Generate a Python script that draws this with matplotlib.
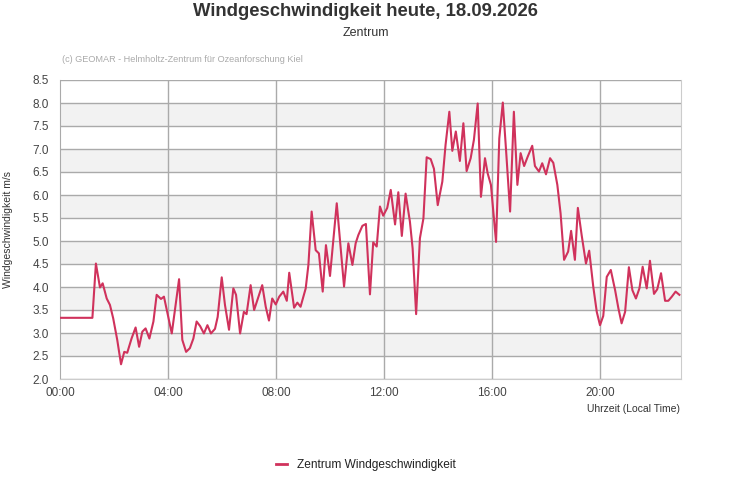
import matplotlib
matplotlib.use("Agg")
import matplotlib.pyplot as plt

plt.rcParams['font.family'] = ['Liberation Sans', 'DejaVu Sans']

title = "Windgeschwindigkeit heute, 18.09.2026"
subtitle = "Zentrum"
credit = "(c) GEOMAR - Helmholtz-Zentrum für Ozeanforschung Kiel"
series_name = "Zentrum Windgeschwindigkeit"
y_label = "Windgeschwindigkeit m/s"
x_label = "Uhrzeit (Local Time)"

# time in hours since 00:00
hours = [0.0, 1.2, 1.33, 1.48, 1.58, 1.73, 1.85, 1.97, 2.12, 2.26, 2.38, 2.49, 2.65, 2.80,
         2.93, 3.05, 3.17, 3.31, 3.46, 3.58, 3.74, 3.85, 4.14, 4.41, 4.53, 4.67, 4.81,
         4.94, 5.06, 5.19, 5.33, 5.46, 5.59, 5.74, 5.84, 5.99, 6.11, 6.26, 6.42, 6.52,
         6.67, 6.81, 6.91, 7.06, 7.19, 7.49, 7.62, 7.74, 7.86, 7.99, 8.12, 8.27, 8.40,
         8.49, 8.67, 8.79, 8.91, 9.10, 9.20, 9.32, 9.47, 9.59, 9.73, 9.85, 10.0, 10.25,
         10.52, 10.68, 10.83, 10.95, 11.05, 11.2, 11.33, 11.48, 11.60, 11.73, 11.85,
         11.97, 12.12, 12.25, 12.41, 12.53, 12.66, 12.80, 12.96, 13.06, 13.19, 13.33,
         13.46, 13.58, 13.73, 13.85, 13.99, 14.16, 14.28, 14.42, 14.53, 14.66, 14.81,
         14.94, 15.06, 15.21, 15.33, 15.47, 15.59, 15.74, 15.84, 15.96, 16.15, 16.27,
         16.40, 16.52, 16.67, 16.81, 16.94, 17.06, 17.19, 17.32, 17.49, 17.59, 17.74,
         17.86, 18.0, 18.15, 18.27, 18.42, 18.54, 18.67, 18.82, 18.93, 19.07, 19.18,
         19.32, 19.48, 19.60, 19.75, 19.88, 20.0, 20.12, 20.25, 20.40, 20.56, 20.68,
         20.80, 20.93, 21.07, 21.2, 21.33, 21.46, 21.58, 21.73, 21.85, 22.0, 22.12,
         22.26, 22.41, 22.53, 22.66, 22.80, 22.94]
speed = [3.33, 3.33, 4.51, 3.99, 4.08, 3.75, 3.61, 3.32, 2.85, 2.32, 2.59, 2.57, 2.88, 3.12,
         2.70, 3.03, 3.10, 2.88, 3.25, 3.83, 3.74, 3.79, 2.99, 4.17, 2.85, 2.59, 2.67,
         2.88, 3.25, 3.15, 2.99, 3.17, 2.99, 3.09, 3.35, 4.21, 3.61, 3.07, 3.97, 3.83,
         2.99, 3.46, 3.41, 4.04, 3.50, 4.04, 3.57, 3.27, 3.75, 3.62, 3.79, 3.90, 3.70,
         4.31, 3.55, 3.66, 3.57, 3.97, 4.48, 5.64, 4.80, 4.73, 3.90, 4.91, 4.24, 5.82,
         4.01, 4.95, 4.48, 4.95, 5.13, 5.33, 5.37, 3.84, 4.97, 4.88, 5.75,
         5.55, 5.72, 6.11, 5.36, 6.06, 5.11, 6.03, 5.42, 4.84, 3.41, 5.06,
         5.49, 6.82, 6.78, 6.57, 5.78, 6.29, 7.09, 7.81, 6.96, 7.38, 6.74,
         7.56, 6.52, 6.80, 7.20, 7.99, 5.96, 6.80, 6.47, 6.22, 4.98, 7.23,
         8.01, 6.98, 5.64, 7.81, 6.22, 6.91, 6.63, 6.83, 7.07, 6.63, 6.51,
         6.69, 6.45, 6.80, 6.70, 6.22, 5.60, 4.59, 4.77, 5.22, 4.59, 5.72,
         5.13, 4.51, 4.79, 4.01, 3.46, 3.17, 3.37, 4.22, 4.37, 3.93, 3.54,
         3.21, 3.46, 4.43, 3.93, 3.75, 3.97, 4.44, 3.97, 4.57, 3.85, 3.95,
         4.30, 3.70, 3.70, 3.79, 3.90, 3.83]

x_ticks = [0, 4, 8, 12, 16, 20]
x_tick_labels = ["00:00", "04:00", "08:00", "12:00", "16:00", "20:00"]
y_ticks = [2.0, 2.5, 3.0, 3.5, 4.0, 4.5, 5.0, 5.5, 6.0, 6.5, 7.0, 7.5, 8.0, 8.5]

line_color = "#d0325c"
txt = "#444444"

fig = plt.figure(figsize=(7.31, 5.0), dpi=100)
W, H = 731, 500
left, right, top, bottom = 60, 681, 80, 379
ax = fig.add_axes([left / W, 1 - bottom / H, (right - left) / W, (bottom - top) / H])

ax.set_xlim(0, 23)
ax.set_ylim(2.0, 8.5)

# alternating bands
for idx, lo in enumerate(y_ticks[:-1]):
    if idx % 2 == 1:
        ax.axhspan(lo, lo + 0.5, color="#f2f2f2", zorder=0, lw=0)

for yv in y_ticks:
    ax.axhline(yv, color="#aaaaaa", lw=1.0, zorder=1)
for xv in x_ticks[1:]:
    ax.axvline(xv, color="#aaaaaa", lw=1.0, zorder=1)

data_line, = ax.plot(hours, speed, color=line_color, lw=1.5, zorder=3,
                     solid_joinstyle='round')

ax.spines["top"].set_visible(False)
ax.spines["left"].set_color("#aaaaaa")
ax.spines["right"].set_color("#cccccc")
ax.spines["bottom"].set_color("#cccccc")

ax.set_xticks(x_ticks)
ax.set_xticklabels(x_tick_labels)
ax.set_yticks(y_ticks)
ax.set_yticklabels([f"{v:.1f}" for v in y_ticks])
ax.tick_params(axis="both", length=0, labelsize=8.5, colors=txt, pad=6)
ax.tick_params(axis="y", pad=8)

fig.text(0.5, 1 - 12 / H, title, ha="center", va="center", fontsize=13.3,
         fontweight="bold", color="#333333")
fig.text(0.5, 1 - 33 / H, subtitle, ha="center", va="center", fontsize=9, color="#333333")
fig.text(62 / W, 1 - 60 / H, credit, ha="left", va="center", fontsize=6.6, color="#aaaaaa")
fig.text(8 / W, 1 - 230 / H, y_label, ha="center", va="center", rotation=90,
         fontsize=7.5, color="#333333")
fig.text(680 / W, 1 - 409 / H, x_label, ha="right", va="center", fontsize=7.5, color="#333333")

leg = fig.legend(handles=[data_line], labels=[series_name], loc="center",
                 bbox_to_anchor=(366 / W, 1 - 465 / H), frameon=False, fontsize=8.6,
                 handlelength=0.9, handletextpad=0.8)
for t in leg.get_texts():
    t.set_color("#222222")
for l in leg.get_lines():
    l.set_linewidth(2)

fig.savefig("out.png", dpi=100)
